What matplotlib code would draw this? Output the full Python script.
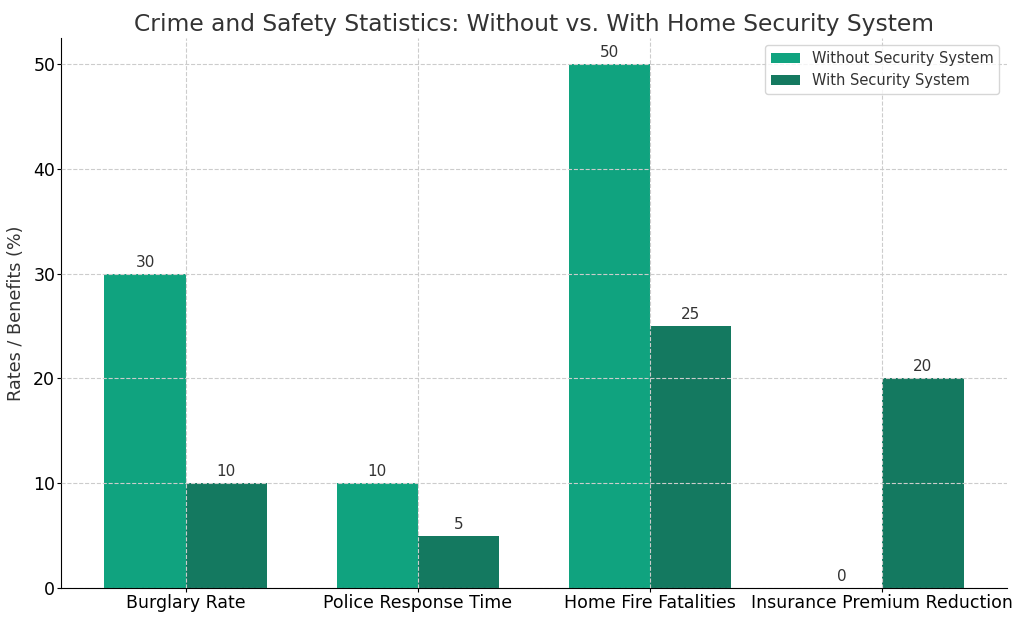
import numpy as np
import matplotlib.pyplot as plt

categories = ["Burglary Rate", "Police Response Time", "Home Fire Fatalities", "Insurance Premium Reduction"]
without_system = [30, 10, 50, 0]
with_system = [10, 5, 25, 20]

plt.rcParams['text.color'] = '#333333'
plt.rcParams['axes.labelcolor'] = '#333333'

fig, ax = plt.subplots(figsize=(10.24, 6.21), dpi=100)

x = np.arange(len(categories))
width = 0.35

b1 = ax.bar(x - width / 2, without_system, width, label="Without Security System", color="#10a37f")
b2 = ax.bar(x + width / 2, with_system, width, label="With Security System", color="#147960")

for bars in (b1, b2):
    for rect in bars:
        h = rect.get_height()
        ax.annotate('%d' % h, xy=(rect.get_x() + rect.get_width() / 2, h),
                    xytext=(0, 3), textcoords="offset points",
                    ha='center', va='bottom', fontsize=11, color='#333333')

ax.set_title("Crime and Safety Statistics: Without vs. With Home Security System", fontsize=16.8, pad=5)
ax.set_ylabel("Rates / Benefits (%)", fontsize=12.7, labelpad=6)
ax.set_xticks(x)
ax.set_xticklabels(categories, fontsize=12.5)
ax.tick_params(axis='both', labelsize=12.5, length=3, pad=1.5)
ax.grid(True, linestyle='--', color='#cccccc', linewidth=0.8)
ax.set_axisbelow(False)
ax.spines['top'].set_visible(False)
ax.spines['right'].set_visible(False)
ax.legend(fontsize=10.5, loc='upper right')

fig.subplots_adjust(left=0.06, right=0.983, top=0.939, bottom=0.053)
plt.savefig('out.png', dpi=100)
